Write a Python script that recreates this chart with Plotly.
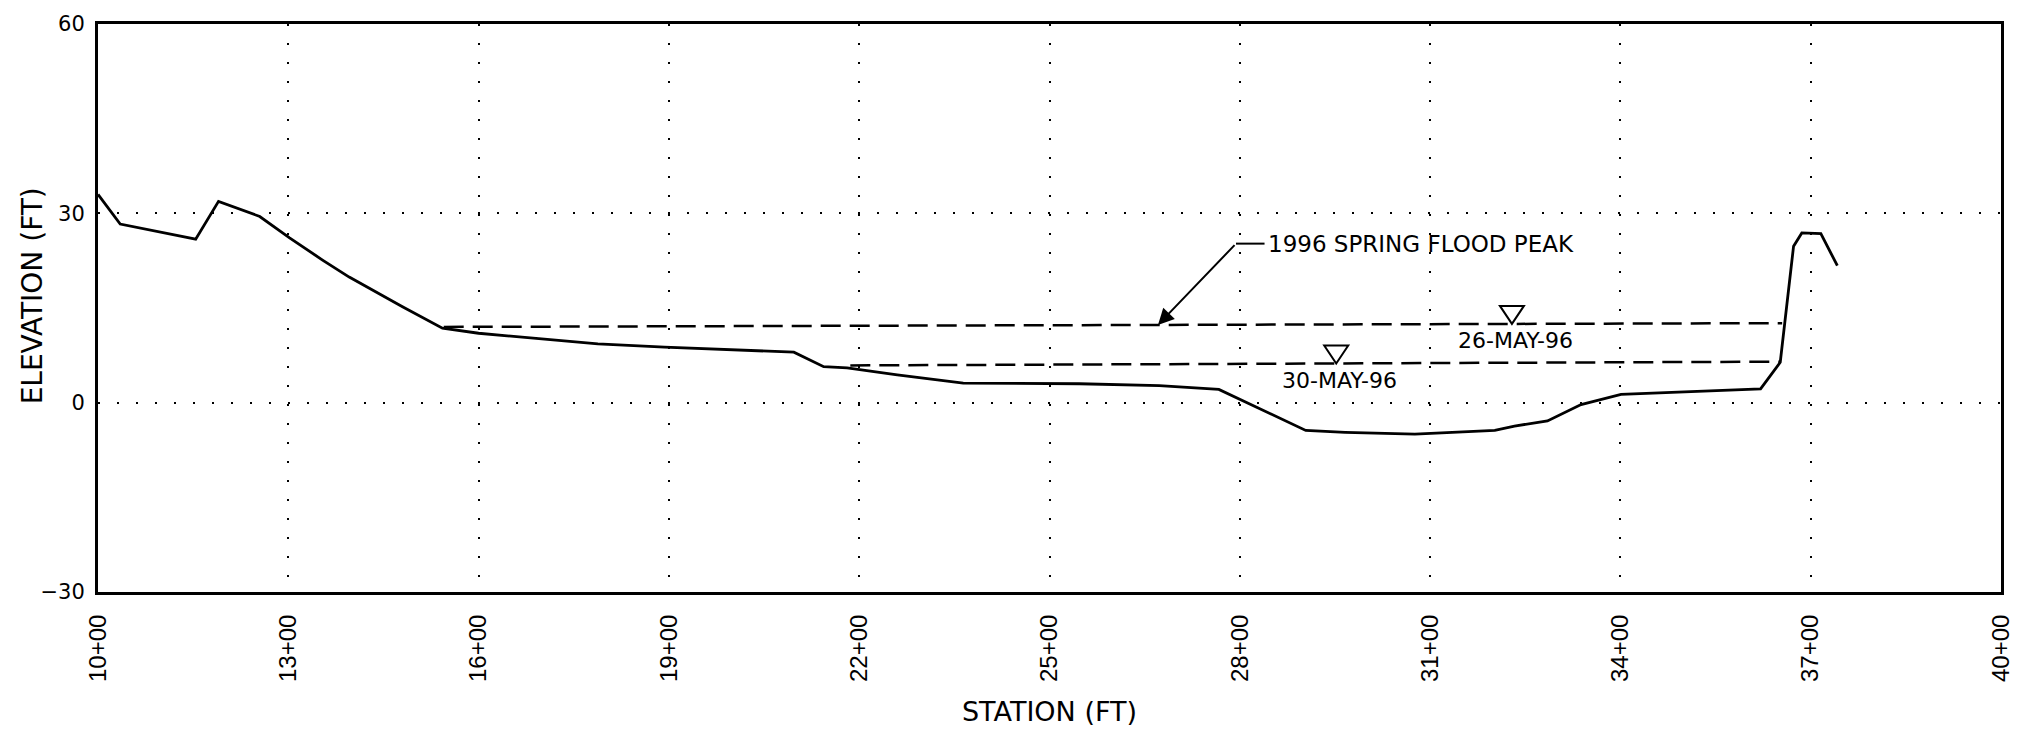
import plotly.graph_objects as go

# Ground profile along the channel (station in ft, elevation in ft)
station = [1000, 1035, 1154, 1190, 1255, 1302, 1354, 1396, 1480, 1543, 1600, 1788,
           1893, 2008, 2097, 2144, 2181, 2260, 2364, 2547, 2673, 2767, 2799, 2888,
           2904, 2966, 3076, 3202, 3233, 3285, 3338, 3401, 3621, 3652, 3673, 3686,
           3716, 3742]
elevation = [33.0, 28.3, 25.9, 31.9, 29.5, 26.1, 22.6, 19.9, 15.2, 11.8, 11.0, 9.3,
             8.8, 8.4, 8.0, 5.7, 5.5, 4.4, 3.1, 3.0, 2.7, 2.1, 0.6, -3.7,
             -4.4, -4.7, -5.0, -4.4, -3.7, -2.9, -0.3, 1.3, 2.2, 6.4, 24.8, 26.9,
             26.8, 21.7]

# Water surface lines
ws_may26_station = [1545, 3655]
ws_may26_elev = [12.0, 12.6]
ws_may30_station = [2186, 3652]
ws_may30_elev = [5.9, 6.5]

# Water surface symbols (station of triangle) and their labels
tri_may26_station = 3229
tri_may30_station = 2952
label_may26 = "26-MAY-96"
label_may30 = "30-MAY-96"

# Callout for the flood peak
peak_text = "1996 SPRING FLOOD PEAK"
peak_arrow_station = 2671
peak_bend = (2794, 25.2)
peak_text_station = 2842

x_ticks = list(range(1000, 4001, 300))
x_ticktext = [f"{v // 100}+00" for v in x_ticks]
y_ticks = [-30, 0, 30, 60]

FONT = "Liberation Sans"
WIDE = "DejaVu Sans"

W, H = 2026, 737
ML, MR, MT, MB = 98, 18, 18, 145


def interp(xs, ys, x):
    return ys[0] + (ys[1] - ys[0]) * (x - xs[0]) / (xs[1] - xs[0])


fig = go.Figure()

dash = "20px,9px"
fig.add_trace(go.Scatter(x=ws_may26_station, y=ws_may26_elev, mode="lines",
                         line=dict(color="black", width=2.5, dash=dash),
                         hoverinfo="skip"))
fig.add_trace(go.Scatter(x=ws_may30_station, y=ws_may30_elev, mode="lines",
                         line=dict(color="black", width=2.5, dash=dash),
                         hoverinfo="skip"))
fig.add_trace(go.Scatter(x=station, y=elevation, mode="lines",
                         line=dict(color="black", width=2.8)))

shapes = []
annotations = []

# Open triangles sitting on the water surface lines
for st, xs, ys, lab, dx in [(tri_may26_station, ws_may26_station, ws_may26_elev, label_may26, 4),
                            (tri_may30_station, ws_may30_station, ws_may30_elev, label_may30, 3)]:
    wy = interp(xs, ys, st)
    shapes.append(dict(type="path", xref="x", yref="y",
                       xsizemode="pixel", ysizemode="pixel",
                       xanchor=st, yanchor=wy,
                       path="M -12,18 L 12,18 L 0,0 Z",
                       line=dict(color="black", width=2)))
    annotations.append(dict(x=st, y=wy, xref="x", yref="y", text=lab,
                            showarrow=False, yshift=-17, xshift=dx,
                            font=dict(family=WIDE, size=22, color="black")))

# Flood peak leader: arrow to the line, short horizontal run, then text
peak_y = interp(ws_may26_station, ws_may26_elev, peak_arrow_station)
annotations.append(dict(x=peak_arrow_station, y=peak_y, xref="x", yref="y",
                        ax=peak_bend[0], ay=peak_bend[1], axref="x", ayref="y",
                        text="", showarrow=True, arrowhead=2, arrowsize=1.6,
                        arrowwidth=2, arrowcolor="black"))
shapes.append(dict(type="line", xref="x", yref="y",
                   x0=peak_bend[0], y0=peak_bend[1],
                   x1=peak_text_station - 3, y1=peak_bend[1],
                   line=dict(color="black", width=2)))
annotations.append(dict(x=peak_text_station, y=peak_bend[1], xref="x", yref="y",
                        text=peak_text, showarrow=False, xanchor="left",
                        font=dict(family=WIDE, size=23, color="black")))

# Vertical axis title, placed in pixels converted to paper fractions
annotations.append(dict(x=(32 - ML) / (W - ML - MR), y=(H - MB - 293) / (H - MT - MB),
                        xref="paper", yref="paper", xanchor="center", yanchor="middle",
                        text="ELEVATION (FT)", showarrow=False, textangle=-90,
                        font=dict(family=WIDE, size=28, color="black")))

fig.update_layout(
    width=W, height=H,
    margin=dict(l=ML, r=MR, t=MT, b=MB),
    paper_bgcolor="white", plot_bgcolor="white",
    showlegend=False,
    shapes=shapes,
    annotations=annotations,
    font=dict(family=FONT, color="black"),
)

fig.update_xaxes(range=[1000, 4000], tickvals=x_ticks, ticktext=x_ticktext,
                 tickangle=-90, tickfont=dict(family=FONT, size=24, color="black"),
                 title=dict(text="STATION (FT)", standoff=22,
                            font=dict(family=WIDE, size=27, color="black")),
                 showgrid=True, gridcolor="black", gridwidth=2, griddash="2px,17px",
                 showline=True, linecolor="black", linewidth=3, mirror=True,
                 ticks="", ticklabelstandoff=10, zeroline=False)
fig.update_yaxes(range=[-30, 60], tickvals=y_ticks,
                 tickfont=dict(family=WIDE, size=21, color="black"),
                 showgrid=True, gridcolor="black", gridwidth=2, griddash="2px,17px",
                 showline=True, linecolor="black", linewidth=3, mirror=True,
                 ticks="", ticklabelstandoff=6, zeroline=False)

fig.write_html("out.html")
